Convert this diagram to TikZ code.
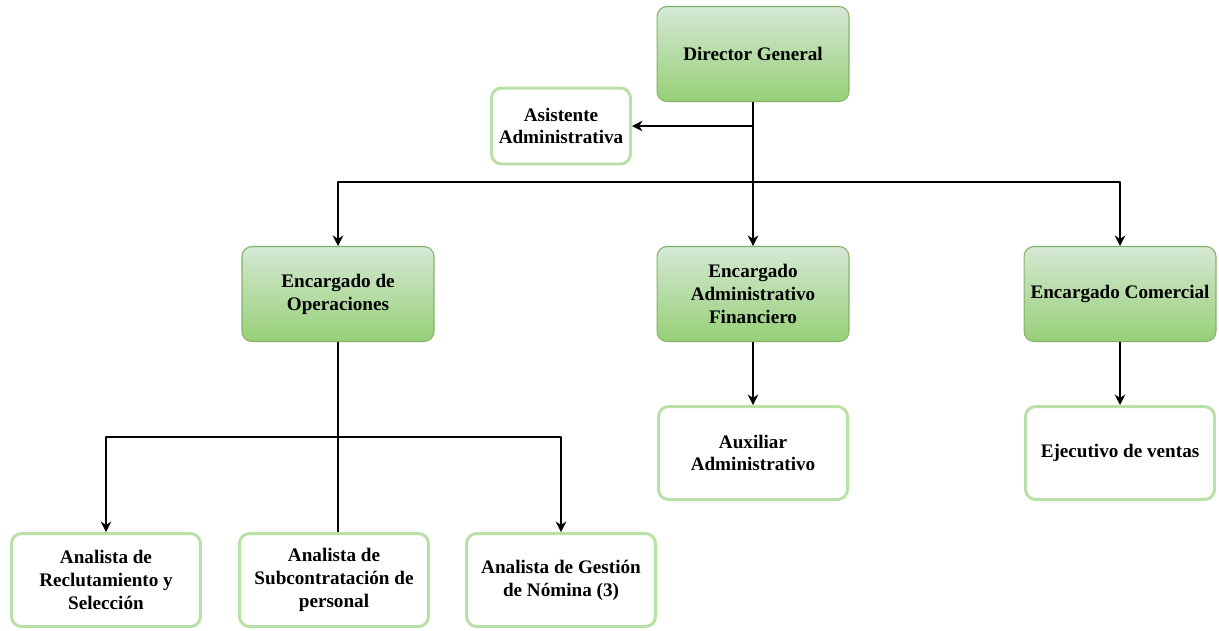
\documentclass[tikz,border=0pt]{standalone}
\usepackage{fontspec}
\setmainfont{Liberation Serif}
\usetikzlibrary{arrows.meta, positioning, calc}
\definecolor{verdeclaro}{HTML}{D5E8D4}
\definecolor{verdeoscuro}{HTML}{97D077}
\definecolor{bordeverde}{HTML}{82B366}
\definecolor{bordesuave}{HTML}{B9E0A5}

\tikzset{
  jefe/.style={draw=bordeverde, line width=0.6pt, rounded corners=0.2cm,
    top color=verdeclaro, bottom color=verdeoscuro,
    minimum width=3.84cm, minimum height=1.9cm, align=center,
    font=\fontsize{10.9}{13}\selectfont\bfseries},
  cargo/.style={draw=bordesuave, line width=1.7pt, rounded corners=0.2cm, fill=white,
    minimum width=3.78cm, minimum height=1.86cm, align=center,
    font=\fontsize{10.9}{13}\selectfont\bfseries},
  flecha/.style={line width=0.85pt, -{Stealth[length=6pt, width=6pt]}},
  linea/.style={line width=0.85pt}
}

\begin{document}
\begin{tikzpicture}[x=0.02cm, y=-0.02cm, line join=round]
      \useasboundingbox (0,0) rectangle (1219,630);

      % Dirección
      \node[jefe] (dir) at (753,54) {Director General};
      \node[cargo, minimum width=2.78cm, minimum height=1.52cm] (asis) at (561,126) {Asistente\\Administrativa};

      % Encargados
      \node[jefe] (ope) at (338,294) {Encargado de\\Operaciones};
      \node[jefe] (fin) at (753,294) {Encargado\\Administrativo\\Financiero};
      \node[jefe] (com) at (1120,294) {Encargado Comercial};

      % Personal de apoyo
      \node[cargo] (aux) at (753,453) {Auxiliar\\Administrativo};
      \node[cargo] (eje) at (1120,453) {Ejecutivo de ventas};

      % Analistas
      \node[cargo] (rec) at (106,580) {Analista de\\Reclutamiento y\\Selección};
      \node[cargo] (sub) at (334,580) {Analista de\\Subcontratación de\\personal};
      \node[cargo] (nom) at (561,580) {Analista de Gestión\\de Nómina (3)};

      % Puntos de reparto
      \coordinate (bus) at (753,182);
      \coordinate (bus2) at (338,437);

      % Conexiones
      \draw[flecha] (dir.south) -- (fin.north);
      \draw[flecha] (dir.south |- asis.east) -- (asis.east);
      \draw[flecha] (bus) -| (ope.north);
      \draw[flecha] (bus) -| (com.north);
      \draw[linea] (ope.south) -- (ope.south |- sub.north);
      \draw[flecha] (bus2) -| (rec.north);
      \draw[flecha] (bus2) -| (nom.north);
      \draw[flecha] (fin.south) -- (aux.north);
      \draw[flecha] (com.south) -- (eje.north);
    \end{tikzpicture}
\end{document}
